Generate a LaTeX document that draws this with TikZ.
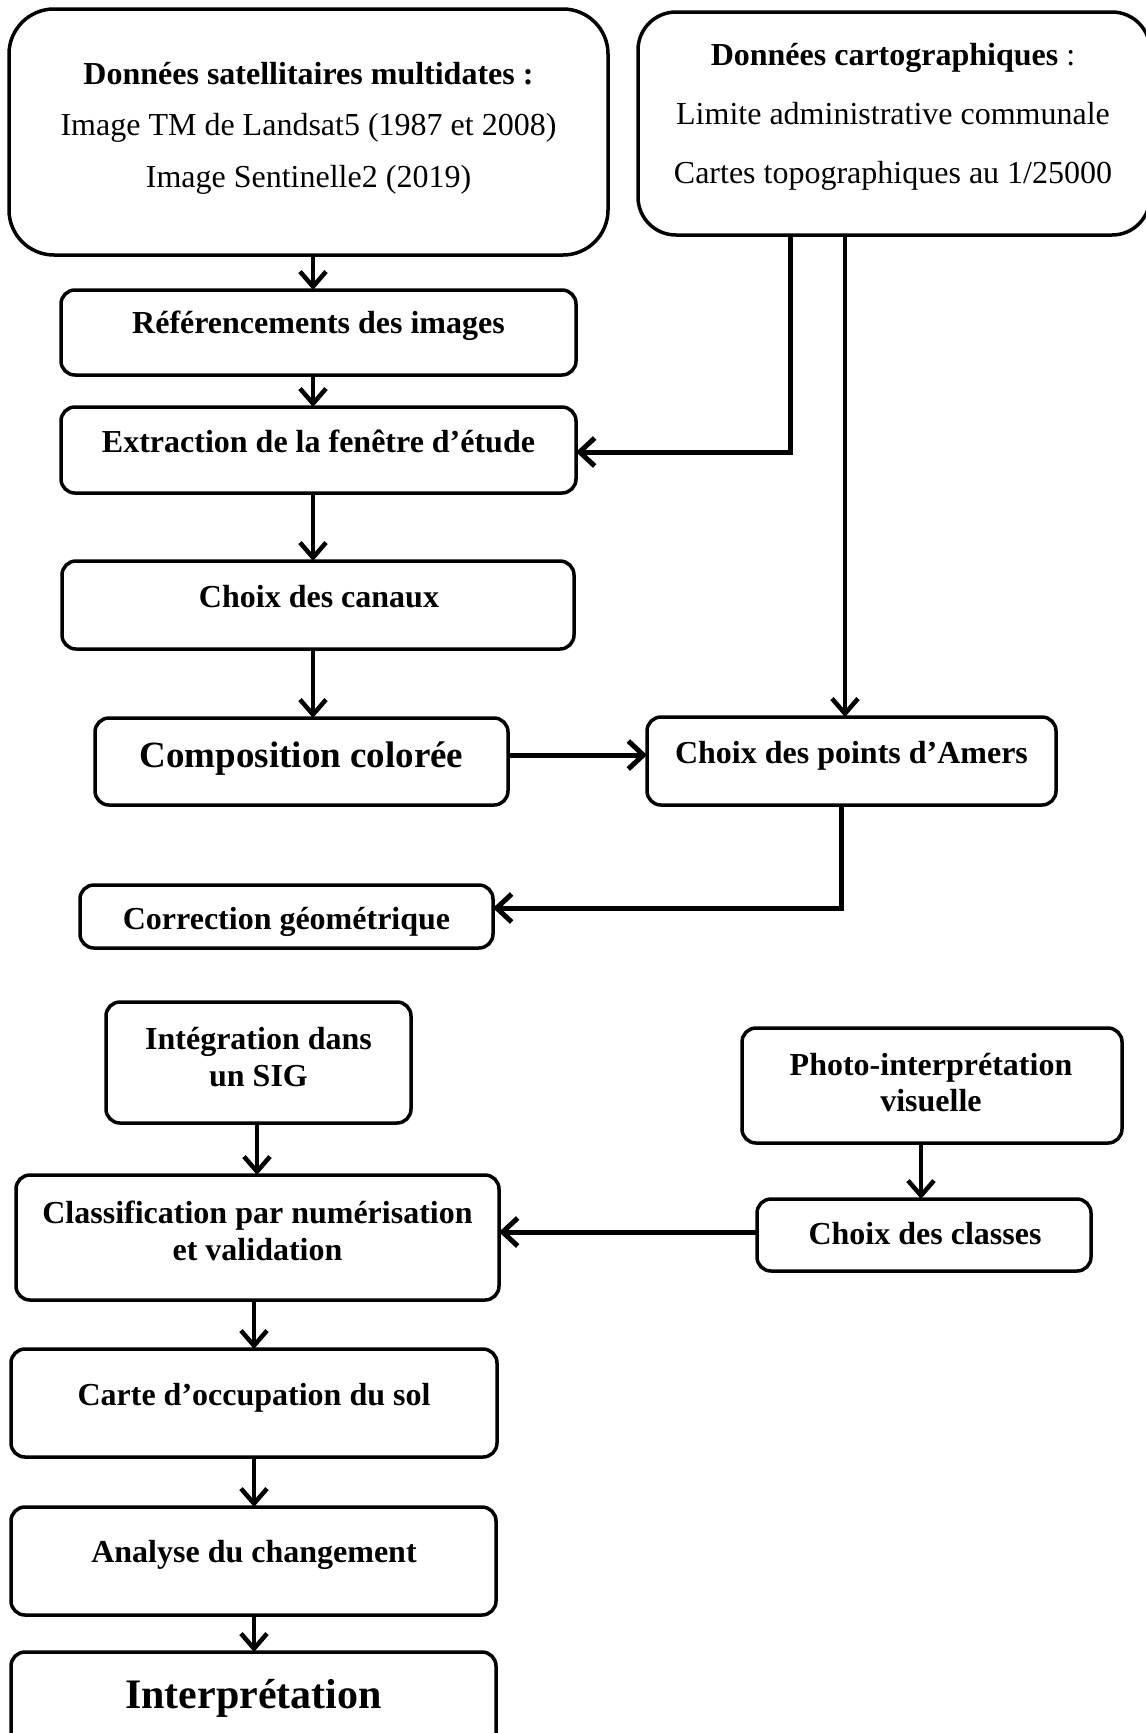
\documentclass[tikz,border=0pt]{standalone}
\usepackage{fontspec}
\setmainfont{Liberation Serif}
\usetikzlibrary{arrows.meta}
\tikzset{
  box/.style={draw, line width=3.5pt, rounded corners=14pt, inner sep=0pt, outer sep=0pt},
  lbl/.style={font=\fontsize{32}{37}\selectfont\bfseries, inner sep=0pt, anchor=base},
  reg/.style={font=\fontsize{32}{37}\selectfont, inner sep=0pt, anchor=base},
  big/.style={font=\fontsize{37}{42}\selectfont\bfseries, inner sep=0pt, anchor=base},
  huge/.style={font=\fontsize{42}{48}\selectfont\bfseries, inner sep=0pt, anchor=base},
  arr/.style={line width=4.5pt, -{Straight Barb[length=15pt,width=26pt]}},
  thickarr/.style={line width=5pt, -{Straight Barb[length=15pt,width=28pt]}},
}
\begin{document}
\begin{tikzpicture}[x=1pt,y=-1pt]
\useasboundingbox (0,0) rectangle (1146,1733);
\clip (0,0) rectangle (1146,1733);
% boxes
\node[box, rounded corners=45pt, minimum width=599pt, minimum height=246pt] (tl) at (308.5,132) {};
\node[box, rounded corners=38pt, minimum width=512pt, minimum height=223pt] (tr) at (894,123.5) {};
\node[box, minimum width=515pt, minimum height=85pt] (ref) at (318.5,332.5) {};
\node[box, minimum width=515pt, minimum height=86pt] (ext) at (318.5,450) {};
\node[box, minimum width=512pt, minimum height=88pt] (can) at (318,605) {};
\node[box, minimum width=413pt, minimum height=87pt] (comp) at (301.5,761.5) {};
\node[box, minimum width=409pt, minimum height=88pt] (amers) at (851.5,761) {};
\node[box, minimum width=413pt, minimum height=63pt] (corr) at (286.5,916.5) {};
\node[box, minimum width=305pt, minimum height=121pt] (integ) at (258.5,1062.5) {};
\node[box, minimum width=380pt, minimum height=115pt] (photo) at (932,1085.5) {};
\node[box, minimum width=483pt, minimum height=125pt] (classif) at (257.5,1237.5) {};
\node[box, minimum width=334pt, minimum height=72pt] (classes) at (924,1235) {};
\node[box, minimum width=486pt, minimum height=108pt] (carte) at (254,1403) {};
\node[box, minimum width=485pt, minimum height=108pt] (analyse) at (253.5,1561) {};
\node[box, minimum width=485pt, minimum height=108pt] (interp) at (253.5,1706) {};
% texts
\node[lbl] (tl1) at (308.5,84) {Données satellitaires multidates :};
\node[reg] (tl2) at (308.5,135) {Image TM de Landsat5 (1987 et 2008)};
\node[reg] (tl3) at (308.5,187) {Image Sentinelle2 (2019)};
\node[reg] (tr1) at (893,65) {\textbf{Données cartographiques} :};
\node[reg] (tr2) at (893,124) {Limite administrative communale};
\node[reg] (tr3) at (893,183) {Cartes topographiques au 1/25000};
\node[lbl] (reft) at (318.5,333) {Référencements des images};
\node[lbl] (extt) at (318.5,452) {Extraction de la fenêtre d’étude};
\node[lbl] (cant) at (319,607) {Choix des canaux};
\node[big] (compt) at (301.5,767) {Composition colorée};
\node[lbl] (amerst) at (851.5,763) {Choix des points d’Amers};
\node[lbl] (corrt) at (286.5,929) {Correction géométrique};
\node[lbl] (integt1) at (258.5,1049) {Intégration dans};
\node[lbl] (integt2) at (258.5,1086) {un SIG};
\node[lbl] (photot1) at (931,1075) {Photo-interprétation};
\node[lbl] (photot2) at (931,1111) {visuelle};
\node[lbl] (classift1) at (257.5,1223) {Classification par numérisation};
\node[lbl] (classift2) at (257.5,1260) {et validation};
\node[lbl] (classest) at (925,1244) {Choix des classes};
\node[lbl] (cartet) at (254,1405) {Carte d’occupation du sol};
\node[lbl] (analyset) at (254,1562) {Analyse du changement};
\node[huge] (interpt) at (253.5,1708) {Interprétation};
% helper coordinates
\coordinate (xa) at (313,0);
\coordinate (xb) at (790,0);
\coordinate (xc) at (845,0);
\coordinate (xd) at (841,0);
\coordinate (xe) at (257,0);
\coordinate (xf) at (921,0);
\coordinate (xg) at (254,0);
\coordinate (ya) at (0,452);
\coordinate (yb) at (0,755);
\coordinate (yc) at (0,908);
\coordinate (yd) at (0,1232);
% connectors
\draw[arr] (tl.south -| xa) -- (ref.north -| xa);
\draw[arr] (ref.south -| xa) -- (ext.north -| xa);
\draw[thickarr] (tr.south -| xb) |- (ext.east |- ya);
\draw[arr] (tr.south -| xc) -- (amers.north -| xc);
\draw[arr] (ext.south -| xa) -- (can.north -| xa);
\draw[arr] (can.south -| xa) -- (comp.north -| xa);
\draw[thickarr] (comp.east |- yb) -- (amers.west |- yb);
\draw[thickarr] (amers.south -| xd) |- (corr.east |- yc);
\draw[arr] (integ.south -| xe) -- (classif.north -| xe);
\draw[arr] (photo.south -| xf) -- (classes.north -| xf);
\draw[thickarr] (classes.west |- yd) -- (classif.east |- yd);
\draw[arr] (classif.south -| xg) -- (carte.north -| xg);
\draw[arr] (carte.south -| xg) -- (analyse.north -| xg);
\draw[arr] (analyse.south -| xg) -- (interp.north -| xg);
\end{tikzpicture}
\end{document}
